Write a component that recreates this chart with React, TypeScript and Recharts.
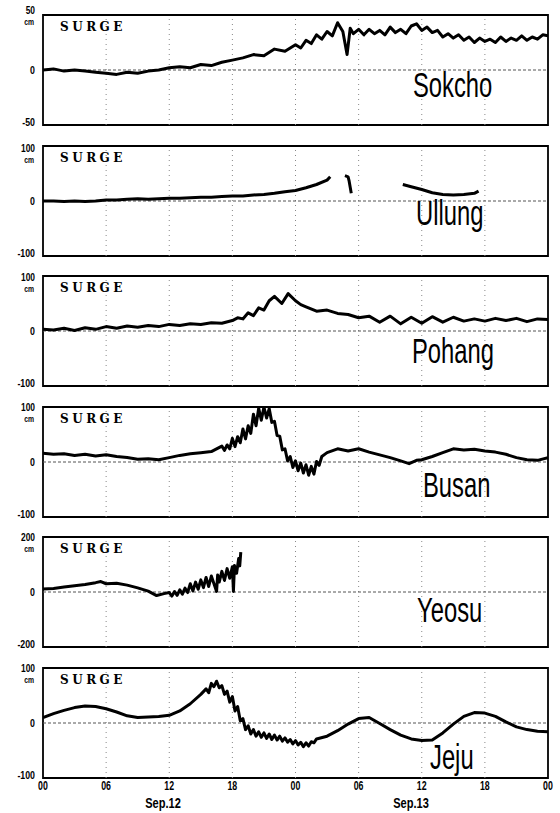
import React from 'react';
import { LineChart, Line, XAxis, YAxis, ReferenceLine, ReferenceArea } from 'recharts';

// ---- axis / label data ----
const X_TICKS = [0, 6, 12, 18, 24, 30, 36, 42, 48];
const X_TICK_LABELS = ['00', '06', '12', '18', '00', '06', '12', '18', '00'];
const DATE_LABELS = ['Sep.12', 'Sep.13'];
const STATIONS = ['Sokcho', 'Ullung', 'Pohang', 'Busan', 'Yeosu', 'Jeju'];
const RANGES = [50, 100, 100, 100, 200, 100];
const PANEL_TITLE = 'SURGE';
const UNIT = 'cm';

// ---- series: [hour since Sep.12 00h, surge cm] ----
const SOKCHO: [number, number | null][] = [
  [0, 0], [1, 1], [2, -1], [3, 0], [4, -1], [5, -2], [6, -3], [7, -4], [8, -2], [9, -3], [10, -1], [11, 0],
  [12, 2], [13, 3], [14, 2], [15, 5], [16, 4], [17, 7], [18, 9], [19, 11], [20, 14], [21, 13], [22, 19], [23, 17],
  [24, 23], [24.5, 20], [25, 27], [25.5, 24], [26, 32], [26.5, 28], [27, 35], [27.5, 31], [28, 43], [28.5, 35],
  [28.9, 14], [29.2, 38], [29.5, 33], [30, 37], [30.5, 32], [31, 37], [31.5, 33], [32, 36], [32.5, 32], [33, 39],
  [33.5, 34], [34, 37], [34.5, 33], [35, 40], [35.5, 42], [36, 36], [36.5, 39], [37, 34], [37.5, 36], [38, 30],
  [38.5, 33], [39, 29], [39.5, 32], [40, 27], [40.5, 30], [41, 25], [41.5, 29], [42, 26], [42.5, 28], [43, 25],
  [43.5, 30], [44, 26], [44.5, 29], [45, 27], [45.5, 31], [46, 27], [46.5, 30], [47, 28], [47.5, 32], [48, 31],
];
const ULLUNG: [number, number | null][] = [
  [0, 0], [1, 0], [2, -1], [3, 0], [4, -1], [5, 0], [6, 2], [7, 2], [8, 3], [9, 4], [10, 3], [11, 4],
  [12, 5], [13, 5], [14, 6], [15, 7], [16, 7], [17, 8], [18, 9], [19, 9], [20, 11], [21, 12], [22, 14], [23, 17],
  [24, 19], [25, 24], [26, 30], [27, 38], [27.3, 44], [27.6, null], [28.6, null], [28.7, 46], [29, 44], [29.1, 36],
  [29.3, 14], [29.5, null], [34, null], [34.2, 30], [35, 26], [36, 21], [37, 15], [38, 12], [39, 11], [40, 12],
  [41, 14], [41.4, 18], [41.6, null], [48, null],
];
const POHANG: [number, number | null][] = [
  [0, 3], [1, 2], [2, 5], [3, 1], [4, 6], [5, 3], [6, 8], [7, 5], [8, 9], [9, 7], [10, 10], [11, 8],
  [12, 12], [13, 10], [14, 13], [15, 12], [16, 15], [17, 14], [18, 19], [18.5, 24], [19, 22], [19.5, 33], [20, 28],
  [20.5, 42], [21, 38], [21.5, 55], [22, 63], [22.7, 50], [23.3, 68], [24, 55], [24.5, 48], [25, 44], [26, 36],
  [27, 38], [28, 32], [29, 30], [30, 24], [31, 27], [32, 16], [33, 27], [34, 13], [35, 25], [36, 14], [37, 26],
  [38, 16], [39, 25], [40, 18], [41, 22], [42, 18], [43, 23], [44, 19], [45, 23], [46, 17], [47, 22], [48, 21],
];
const BUSAN: [number, number | null][] = [
  [0, 16], [1, 14], [2, 15], [3, 12], [4, 14], [5, 11], [6, 13], [7, 10], [8, 8], [9, 5], [10, 6], [11, 4],
  [12, 8], [13, 12], [14, 15], [15, 17], [16, 19], [17, 29], [17.25, 21], [17.5, 31], [17.75, 24], [18, 43],
  [18.25, 28], [18.5, 46], [18.75, 35], [19, 60], [19.25, 42], [19.5, 66], [19.75, 52], [20, 87], [20.25, 66],
  [20.5, 98], [20.75, 76], [21, 100], [21.25, 80], [21.5, 97], [21.75, 72], [22, 74], [22.25, 48], [22.5, 47],
  [22.75, 22], [23, 24], [23.25, 2], [23.5, 10], [23.75, -10], [24, 2], [24.25, -16], [24.5, -2], [24.75, -20],
  [25, -5], [25.25, -24], [25.5, -8], [25.75, -22], [26, 1], [26.25, -6], [26.5, 10], [27, 17], [28, 24], [29, 20],
  [30, 24], [31, 18], [32, 13], [33, 8], [34, 2], [34.8, -3], [35.5, 3], [36, 4], [37, 10], [38, 17], [39, 24],
  [40, 22], [41, 23], [42, 20], [43, 18], [44, 14], [45, 8], [46, 4], [47, 3], [48, 8],
];
const YEOSU: [number, number | null][] = [
  [0, 11], [1, 13], [2, 18], [3, 23], [4, 27], [5, 34], [5.5, 38], [6, 30], [7, 32], [8, 25], [9, 15], [10, 3],
  [10.8, -13], [11.5, -6], [12, -2], [12.25, -15], [12.5, 2], [12.75, -12], [13, 8], [13.25, -8], [13.5, 14],
  [13.75, -2], [14, 30], [14.25, 4], [14.5, 36], [14.75, 10], [15, 44], [15.25, 16], [15.5, 53], [15.75, 20],
  [16, 58], [16.25, 30], [16.5, 2], [16.6, 62], [16.75, 36], [17, 75], [17.25, 42], [17.5, 85], [17.75, 50],
  [18, 92], [18.1, 2], [18.2, 96], [18.4, 68], [18.6, 122], [18.7, 95], [18.8, 145], [19, null], [48, null],
];
const JEJU: [number, number | null][] = [
  [0, 10], [1, 17], [2, 23], [3, 28], [4, 31], [5, 30], [6, 26], [7, 20], [8, 13], [9, 10], [10, 11], [11, 12],
  [12, 14], [13, 22], [14, 35], [15, 52], [15.5, 62], [15.75, 55], [16, 72], [16.25, 66], [16.5, 76], [16.75, 64],
  [17, 68], [17.25, 52], [17.5, 58], [17.75, 38], [18, 48], [18.25, 22], [18.5, 30], [18.75, 4], [19, 8],
  [19.25, -12], [19.5, -5], [19.75, -20], [20, -12], [20.25, -24], [20.5, -16], [20.75, -26], [21, -18],
  [21.25, -28], [21.5, -20], [21.75, -30], [22, -22], [22.25, -31], [22.5, -24], [22.75, -33], [23, -27],
  [23.25, -35], [23.5, -30], [23.75, -38], [24, -32], [24.25, -40], [24.5, -35], [24.75, -43], [25, -36],
  [25.25, -42], [25.5, -34], [25.75, -36], [26, -29], [27, -24], [28, -14], [29, -2], [30, 8], [31, 10],
  [32, -1], [33, -12], [34, -22], [35, -29], [36, -32], [37, -31], [38, -18], [39, -2], [40, 12], [41, 19],
  [42, 18], [43, 12], [44, 2], [45, -7], [46, -12], [47, -15], [48, -16],
];
const SERIES = [SOKCHO, ULLUNG, POHANG, BUSAN, YEOSU, JEJU];

// ---- layout (styles only) ----
const W = 560;
const H = 813;
const PLOT_LEFT = 43;
const PLOT_RIGHT = 548;
const FIRST_TOP = 15;
const STEP = 130.6;
const PLOT_H = 110;
const TOP_LABEL_DY = [-5, 2, 1, 0, 0, 0];
const STATION_POS = [
  [413, 97], [416, 225], [412, 363], [423, 497], [417, 622], [430, 769],
];
const DATE_X = [163, 411];
const NARROW = "'Liberation Sans', Arial, sans-serif";

const NText = ({ x, y, children, size, anchor = 'end', sx = 0.8, sy = 1.05 }: any) => (
  <text
    transform={`translate(${x},${y}) scale(${sx},${sy})`}
    dominantBaseline="central"
    textAnchor={anchor}
    fontFamily={NARROW}
    fontWeight={700}
    fontSize={size}
    fill="#000"
  >
    {children}
  </text>
);

const YTick = (props: any) => {
  const { x, y, payload, range, idx } = props;
  const v = payload.value;
  if (v === range) {
    const yy = y + TOP_LABEL_DY[idx];
    return (
      <g>
        <NText x={x - 8} y={yy} size={10.5}>{v}</NText>
        <NText x={x - 9} y={yy + 12} size={8.5}>{UNIT}</NText>
      </g>
    );
  }
  const dy = v === 0 ? 0 : -3;
  return <NText x={x - 8} y={y + dy} size={11}>{v}</NText>;
};

const XTick = (props: any) => {
  const { x, y, payload } = props;
  const i = X_TICKS.indexOf(payload.value);
  return (
    <NText x={x} y={y + 7} size={11} anchor="middle" sy={1.1}>
      {X_TICK_LABELS[i]}
    </NText>
  );
};

function Panel({ idx }: { idx: number }) {
  const range = RANGES[idx];
  const last = idx === SERIES.length - 1;
  const data = SERIES[idx].map(([t, v]) => ({ t, v }));
  const mTop = 14;
  const bottomPad = last ? 24 : 8;
  const top = FIRST_TOP + idx * STEP;
  const h = PLOT_H + mTop + bottomPad;
  return (
    <div style={{ position: 'absolute', left: 0, top: top - mTop, width: W, height: h }}>
      <LineChart width={W} height={h} data={data} margin={{ top: mTop, right: W - PLOT_RIGHT, bottom: 0, left: 0 }}>
        <XAxis
          dataKey="t"
          type="number"
          domain={[0, 48]}
          ticks={X_TICKS}
          interval={0}
          height={bottomPad}
          axisLine={false}
          tickLine={false}
          tickSize={0}
          tickMargin={0}
          tick={last ? <XTick /> : false}
          allowDataOverflow
        />
        <YAxis
          type="number"
          domain={[-range, range]}
          ticks={[-range, 0, range]}
          interval={0}
          width={PLOT_LEFT}
          axisLine={false}
          tickLine={false}
          tickSize={0}
          tickMargin={0}
          tick={<YTick range={range} idx={idx} />}
          allowDataOverflow
        />
        {X_TICKS.slice(1, -1).map((t) => (
          <ReferenceLine key={t} x={t} stroke="#888" strokeWidth={1} strokeDasharray="1 4" />
        ))}
        <ReferenceLine y={0} stroke="#555" strokeWidth={1} strokeDasharray="3 2" />
        <Line
          dataKey="v"
          type="linear"
          stroke="#000"
          strokeWidth={3}
          strokeLinejoin="round"
          dot={false}
          connectNulls={false}
          isAnimationActive={false}
        />
        <ReferenceArea x1={0} x2={48} y1={-range} y2={range} fill="none" stroke="#000" strokeWidth={1.8} ifOverflow="visible" />
      </LineChart>
    </div>
  );
}

export default function App() {
  return (
    <div style={{ position: 'absolute', left: 0, top: 0, width: W, height: H, background: '#fff', overflow: 'hidden' }}>
      {SERIES.map((_, i) => (
        <Panel key={i} idx={i} />
      ))}
      <svg width={W} height={H} style={{ position: 'absolute', left: 0, top: 0, pointerEvents: 'none' }}>
        {STATIONS.map((name, i) => {
          const top = FIRST_TOP + i * STEP;
          return (
            <g key={name}>
              <text x={60} y={top + 16} fontFamily="'DejaVu Serif', serif" fontWeight={700} fontSize={12} letterSpacing={3.5} fill="#000">
                {PANEL_TITLE}
              </text>
              <text
                transform={`translate(${STATION_POS[i][0]},${STATION_POS[i][1]}) scale(0.85,1.25)`}
                fontFamily={NARROW}
                fontSize={28}
                fill="#000"
              >
                {name}
              </text>
            </g>
          );
        })}
        {DATE_LABELS.map((d, i) => (
          <text
            key={d}
            transform={`translate(${DATE_X[i]},808) scale(0.85,1.15)`}
            textAnchor="middle"
            fontFamily={NARROW}
            fontWeight={700}
            fontSize={13}
            fill="#000"
          >
            {d}
          </text>
        ))}
      </svg>
    </div>
  );
}
